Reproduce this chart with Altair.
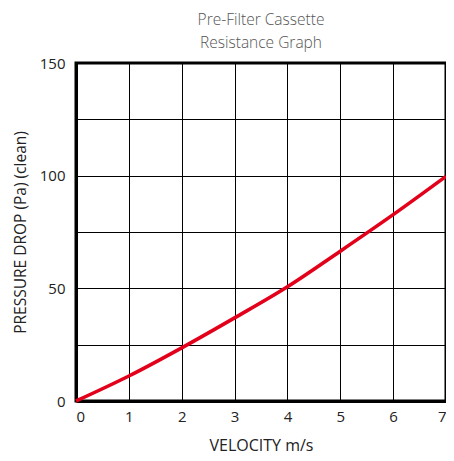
import altair as alt
import pandas as pd

velocity = [0, 1, 2, 3, 4, 5, 6, 7]
pressure = [0, 11.1, 23.6, 36.9, 50.7, 66.5, 82.7, 99.7]
x_ticks = [0, 1, 2, 3, 4, 5, 6, 7]
y_grid = [0, 25, 50, 75, 100, 125, 150]
title_lines = ["Pre-Filter Cassette", "Resistance Graph"]

df = pd.DataFrame({"v": velocity, "p": pressure})

FONT = "Open Sans"

line = alt.Chart(df).mark_line(color="#e2001a", strokeWidth=3.6, interpolate="monotone").encode(
    x=alt.X("v:Q", scale=alt.Scale(domain=[0, 7], nice=False, zero=False),
            axis=alt.Axis(title="VELOCITY m/s", values=x_ticks, grid=True,
                          gridColor="black", gridWidth=1, gridOpacity=1,
                          domainColor="black", domainWidth=3, ticks=False,
                          labelPadding=8, titlePadding=13, format="d",
                          titleFontSize=16, labelFontSize=15)),
    y=alt.Y("p:Q", scale=alt.Scale(domain=[0, 150], nice=False),
            axis=alt.Axis(title="PRESSURE DROP (Pa) (clean)", values=y_grid,
                          labelExpr="datum.value % 50 == 0 ? datum.label : ''",
                          grid=True, gridColor="black", gridWidth=1, gridOpacity=1,
                          domainColor="black", domainWidth=3, ticks=False,
                          labelPadding=11, titlePadding=11,
                          titleFontSize=15.5, labelFontSize=15)),
)

chart = line.properties(
    width=370, height=338,
    autosize=alt.AutoSizeParams(type="none"),
    padding={"left": 68, "top": 55, "right": 0, "bottom": 58},
    title=alt.TitleParams(title_lines, fontSize=15.5,
                          font=FONT, fontWeight=300, color="#555555",
                          lineHeight=23, offset=5, anchor="middle"),
).configure_view(stroke="black", strokeWidth=3).configure_axis(
    labelFont=FONT, titleFont=FONT,
    labelColor="#222222", titleColor="#222222", titleFontWeight="normal"
)

chart.save("out.html", embed_options={"renderer": "svg", "actions": False})
